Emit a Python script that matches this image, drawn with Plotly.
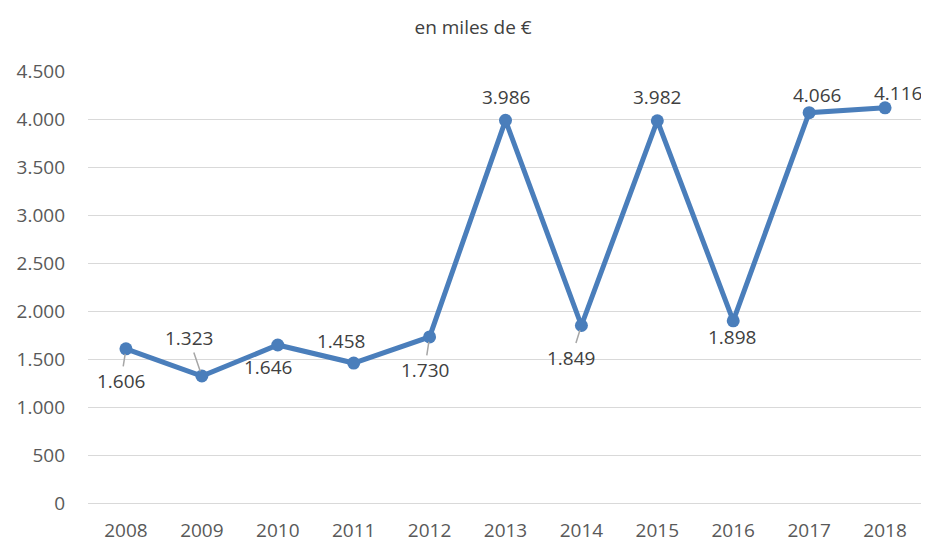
import plotly.graph_objects as go

years = ["2008", "2009", "2010", "2011", "2012", "2013", "2014", "2015", "2016", "2017", "2018"]
values = [1606, 1323, 1646, 1458, 1730, 3986, 1849, 3982, 1898, 4066, 4116]
labels = ["1.606", "1.323", "1.646", "1.458", "1.730", "3.986", "1.849", "3.982", "1.898", "4.066", "4.116"]
y_ticks = [0, 500, 1000, 1500, 2000, 2500, 3000, 3500, 4000, 4500]
y_tick_text = ["0", "500", "1.000", "1.500", "2.000", "2.500", "3.000", "3.500", "4.000", "4.500"]

# label offsets in pixels (text centre relative to the point) and leader-line visibility
label_dx = [-5, -13, -10, -13, -5, 0, -10, 0, -1, 8, 13]
label_dy = [32, -38, 22, -22, 33, -23, 32, -24, 16, -18, -15]
leader = [True, True, False, False, True, False, True, False, False, False, False]

line_color = "#4A7EBB"

fig = go.Figure()
fig.add_trace(go.Scatter(
    x=list(range(len(years))), y=values, mode="lines+markers",
    line=dict(color=line_color, width=5),
    marker=dict(color=line_color, size=13),
    cliponaxis=False, hoverinfo="skip",
))

for i, (v, t, dx, dy, ld) in enumerate(zip(values, labels, label_dx, label_dy, leader)):
    fig.add_annotation(
        x=i, y=v, xref="x", yref="y", text=t, ax=dx, ay=dy, axref="pixel", ayref="pixel",
        showarrow=True, arrowhead=0, arrowwidth=1.5, standoff=5,
        arrowcolor="#a6a6a6" if ld else "rgba(0,0,0,0)",
        font=dict(family="Open Sans", size=19, color="#404040"),
    )

# page body has an 8px margin, so the figure is sized to fit 929x542 window
fig.update_layout(
    width=921, height=534,
    margin=dict(l=80, r=6, t=63, b=39, autoexpand=False),
    paper_bgcolor="white", plot_bgcolor="white",
    showlegend=False,
    title=dict(text="en miles de €", x=0.505, xanchor="center", xref="container",
               y=0.964, yanchor="middle", yref="container",
               font=dict(family="Open Sans", size=19, color="#404040")),
    xaxis=dict(range=[-0.5, 10.5], tickvals=list(range(len(years))), ticktext=years,
               showgrid=False, zeroline=False, automargin=False,
               showline=True, linecolor="#d9d9d9", linewidth=1.3,
               ticks="", ticklabelstandoff=10,
               tickfont=dict(family="Open Sans", size=19, color="#595959")),
    yaxis=dict(range=[0, 4500], tickvals=y_ticks, ticktext=y_tick_text, automargin=False,
               showgrid=True, gridcolor="#d9d9d9", gridwidth=1.3, zeroline=False,
               showline=False, ticks="", ticklabelstandoff=22,
               tickfont=dict(family="Open Sans", size=19, color="#595959")),
)

fig.write_html("out.html")
